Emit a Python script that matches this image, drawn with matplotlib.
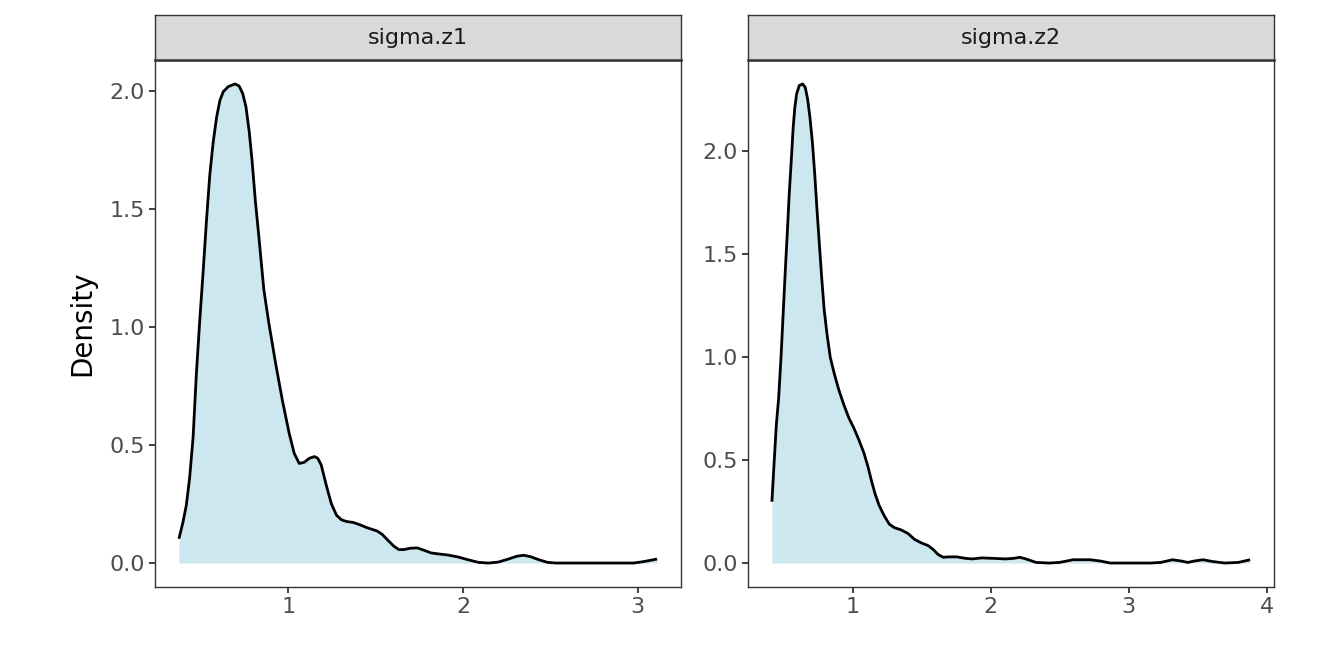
import matplotlib
matplotlib.use("Agg")
import matplotlib.pyplot as plt
import numpy as np

# Density curves (x, density)
z1_x = [0.373, 0.396, 0.415, 0.434, 0.454, 0.473, 0.492, 0.512, 0.531, 0.550,
        0.569, 0.589, 0.608, 0.627, 0.656, 0.695, 0.718, 0.738, 0.757, 0.776,
        0.792, 0.811, 0.830, 0.859, 0.888, 0.927, 0.966, 1.004, 1.033, 1.062,
        1.091, 1.120, 1.149, 1.168, 1.188, 1.217, 1.246, 1.275, 1.304, 1.333,
        1.371, 1.410, 1.449, 1.507, 1.536, 1.565, 1.603, 1.632, 1.661, 1.700,
        1.739, 1.777, 1.816, 1.855, 1.913, 1.970, 2.028, 2.087, 2.144, 2.202,
        2.260, 2.309, 2.347, 2.386, 2.434, 2.483, 2.531, 2.750, 2.975, 3.033,
        3.111]
z1_y = [0.103, 0.172, 0.243, 0.358, 0.530, 0.802, 1.024, 1.238, 1.453, 1.646,
        1.782, 1.890, 1.961, 1.997, 2.019, 2.030, 2.021, 1.990, 1.933, 1.825,
        1.704, 1.532, 1.389, 1.160, 1.016, 0.845, 0.687, 0.551, 0.465, 0.422,
        0.427, 0.444, 0.451, 0.444, 0.415, 0.329, 0.251, 0.203, 0.183, 0.176,
        0.172, 0.162, 0.150, 0.136, 0.122, 0.100, 0.072, 0.057, 0.057, 0.063,
        0.064, 0.054, 0.043, 0.039, 0.034, 0.026, 0.014, 0.003, 0.000, 0.004,
        0.017, 0.029, 0.033, 0.027, 0.014, 0.003, 0.000, 0.000, 0.000, 0.006,
        0.017]

z2_x = [0.413, 0.428, 0.445, 0.462, 0.479, 0.496, 0.513, 0.526, 0.538, 0.553,
        0.567, 0.579, 0.592, 0.611, 0.636, 0.655, 0.672, 0.689, 0.707, 0.724,
        0.741, 0.758, 0.775, 0.792, 0.812, 0.836, 0.866, 0.897, 0.934, 0.971,
        1.007, 1.044, 1.081, 1.110, 1.134, 1.161, 1.191, 1.227, 1.264, 1.301,
        1.350, 1.399, 1.447, 1.496, 1.545, 1.582, 1.619, 1.655, 1.692, 1.753,
        1.814, 1.863, 1.936, 2.010, 2.108, 2.169, 2.210, 2.254, 2.328, 2.425,
        2.499, 2.597, 2.719, 2.792, 2.866, 3.159, 3.232, 3.318, 3.379, 3.428,
        3.477, 3.538, 3.611, 3.697, 3.795, 3.880]
z2_y = [0.298, 0.475, 0.672, 0.803, 1.000, 1.230, 1.459, 1.623, 1.787, 1.951,
        2.115, 2.213, 2.279, 2.320, 2.328, 2.311, 2.254, 2.164, 2.041, 1.885,
        1.705, 1.541, 1.377, 1.230, 1.115, 1.000, 0.918, 0.844, 0.770, 0.705,
        0.656, 0.598, 0.533, 0.467, 0.402, 0.336, 0.279, 0.230, 0.189, 0.172,
        0.161, 0.144, 0.115, 0.098, 0.085, 0.066, 0.041, 0.028, 0.030, 0.030,
        0.023, 0.020, 0.025, 0.023, 0.020, 0.023, 0.028, 0.020, 0.003, 0.000,
        0.003, 0.016, 0.016, 0.010, 0.000, 0.000, 0.003, 0.016, 0.010, 0.003,
        0.010, 0.016, 0.007, 0.000, 0.003, 0.016]

panels = ["sigma.z1", "sigma.z2"]
xs = [z1_x, z2_x]
ys = [z1_y, z2_y]
xticks = [[1, 2, 3], [1, 2, 3, 4]]
yticks = [[0.0, 0.5, 1.0, 1.5, 2.0], [0.0, 0.5, 1.0, 1.5, 2.0]]

border = "#333333"
fig = plt.figure(figsize=(13.44, 6.72), dpi=100)

W, H = 1344, 672
lefts = [155, 748]
pw = 526
top, bottom = 60, 587
strip_top = 15

for i, name in enumerate(panels):
    x = np.array(xs[i])
    y = np.array(ys[i])
    ax = fig.add_axes([lefts[i] / W, 1 - bottom / H, pw / W, (bottom - top) / H])
    ax.fill_between(x, 0, y, color="lightblue", alpha=0.6, linewidth=0)
    ax.plot(x, y, color="black", linewidth=2.0, solid_joinstyle="round",
            solid_capstyle="butt")

    # ggplot-style 5% expansion
    xr = x.max() - x.min()
    ax.set_xlim(x.min() - 0.05 * xr, x.max() + 0.05 * xr)
    ax.set_ylim(-0.05 * y.max(), y.max() * 1.05)
    ax.set_xticks(xticks[i])
    ax.set_xticklabels([str(t) for t in xticks[i]])
    ax.set_yticks(yticks[i])
    ax.set_yticklabels([f"{t:.1f}" for t in yticks[i]])
    ax.tick_params(colors=border, labelcolor="#4D4D4D", labelsize=16,
                   length=4.5, width=1.3, pad=3)
    for s in ax.spines.values():
        s.set_color(border)
        s.set_linewidth(1.0)

    # facet strip
    sax = fig.add_axes([lefts[i] / W, 1 - top / H, pw / W, (top - strip_top) / H])
    sax.set_facecolor("#D9D9D9")
    sax.set_xticks([])
    sax.set_yticks([])
    for s in sax.spines.values():
        s.set_color(border)
        s.set_linewidth(1.0)
    sax.spines["bottom"].set_linewidth(1.8)
    sax.text(0.5, 0.5, name, ha="center", va="center", fontsize=16,
             color="#1A1A1A", transform=sax.transAxes)

fig.text(82 / W, 1 - 323 / H, "Density", rotation=90, ha="center", va="center",
         fontsize=20, color="black")

fig.savefig("out.png", dpi=100)
